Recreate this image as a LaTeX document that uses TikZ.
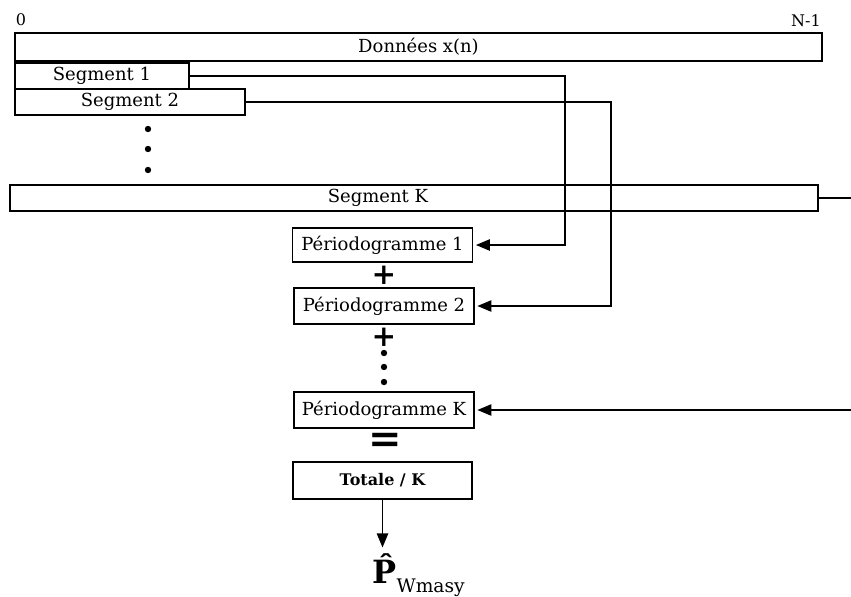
\documentclass[tikz,border=0pt]{standalone}
\usepackage{fontspec}
\setmainfont{DejaVu Serif}
\usetikzlibrary{positioning, arrows.meta}

\begin{document}
\begin{tikzpicture}[x=0.75pt,y=-0.75pt,thick,
    box/.style={draw,line width=1.1pt,inner sep=0pt,font=\fontsize{13.5}{15}\selectfont},
    bar/.style={box,minimum height=19.5pt},
    per/.style={box,minimum width=135pt,minimum height=27pt},
    feed/.style={line width=1.1pt},
    arr/.style={feed,-{Triangle[length=10.5pt,width=8.5pt]},shorten >=2pt},
    op/.style={font=\bfseries\fontsize{22}{22}\selectfont,inner sep=0pt},
    idx/.style={font=\fontsize{12}{14}\selectfont,inner sep=0pt}]
    \useasboundingbox (0,0) rectangle (851,597);
    % signal and segments
    \node[idx] (n0) at (21,20) {0};
    \node[idx] (nN) at (806,21) {N-1};
    \node[box,minimum width=605.25pt,minimum height=21pt] (data) at (418.5,47) {Données x(n)};
    \node[bar,minimum width=130.5pt] (seg1) at (102,76) {Segment 1};
    \node[bar,minimum width=172.5pt] (seg2) at (130,102) {Segment 2};
    \node[bar,minimum width=606pt] (segK) at (414,198) {Segment K\kern54pt\relax};
    \foreach \y in {129,149,170}
        \fill (148,\y) circle[radius=2.4pt];

    % periodograms
    \node[per,minimum height=25.5pt] (per1) at (382.5,245) {Périodogramme 1};
    \node[op] (plus1) at (384,275) {+};
    \node[per] (per2) at (384,306) {Périodogramme 2};
    \node[op] (plus2) at (384,337) {+};
    \foreach \y in {353,367,382}
        \fill (384,\y) circle[radius=2.4pt];
    \node[per] (perK) at (384,410) {Périodogramme K};
    \node[op,font=\bfseries\fontsize{30}{30}\selectfont] (eq) at (385,443) {=};
    \node[per,minimum width=134.25pt,minimum height=27.75pt,font=\bfseries\fontsize{12}{14}\selectfont] (tot) at (382.5,480.5) {Totale / K};
    \node[anchor=base west,inner sep=0pt] (pw) at (372,583)
        {{\bfseries\fontsize{24}{24}\selectfont\^{P}}\raisebox{-7pt}{\fontsize{14}{14}\selectfont Wmasy}};

    \coordinate (c1) at (565,0);
    \coordinate (c2) at (611,0);
    \coordinate (eK) at (851,198);
    \coordinate (eK2) at (851,410);

    \draw[arr] (seg1.east) -| (c1 |- per1.east) -- (per1.east);
    \draw[arr] (seg2.east) -| (c2 |- per2.east) -- (per2.east);
    \draw[feed] (segK.east) -- (eK);
    \draw[arr] (eK2) -- (perK.east);
    \draw[arr,shorten >=4pt] (tot.south) -- (tot.south |- pw.north);
\end{tikzpicture}
\end{document}
